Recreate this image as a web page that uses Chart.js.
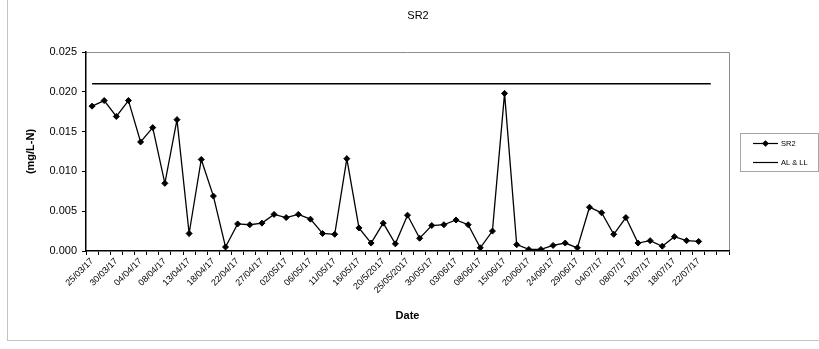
<!DOCTYPE html>
<html><head><meta charset="utf-8">
<script src="https://cdn.jsdelivr.net/npm/chart.js@4.4.0/dist/chart.umd.min.js"></script>
<style>html,body{margin:0;padding:0;background:#fff;overflow:hidden}#wrap{width:819px;height:349px;position:relative}</style>
</head><body><div id="wrap"><canvas id="c" width="819" height="349"></canvas></div>
<script>
const chartTitle = 'SR2';
const yAxisTitle = '(mg/L-N)';
const xAxisTitle = 'Date';
const seriesNames = ['SR2', 'AL & LL'];
// shown date labels (every second category)
const dateLabels = ['25/03/17','30/03/17','04/04/17','08/04/17','13/04/17','18/04/17','22/04/17','27/04/17','02/05/17','06/05/17','11/05/17','16/05/17','20/5/2017','25/05/2017','30/05/17','03/06/17','08/06/17','15/06/17','20/06/17','24/06/17','29/06/17','04/07/17','08/07/17','13/07/17','18/07/17','22/07/17'];
const categoryCount = 53;
const sr2Values = [0.0182,0.0189,0.0169,0.0189,0.0137,0.0155,0.0085,0.0165,0.0022,0.0115,0.0069,0.0005,0.0034,0.0033,0.0035,0.0046,0.0042,0.0046,0.0040,0.0022,0.0021,0.0116,0.0029,0.0010,0.0035,0.0009,0.0045,0.0016,0.0032,0.0033,0.0039,0.0033,0.0004,0.0025,0.0198,0.0008,0.0002,0.0002,0.0007,0.0010,0.0004,0.0055,0.0048,0.0021,0.0042,0.0010,0.0013,0.0006,0.0018,0.0013,0.0012];
const alLlValues = [0.021,0.021,0.021,0.021,0.021,0.021,0.021,0.021,0.021,0.021,0.021,0.021,0.021,0.021,0.021,0.021,0.021,0.021,0.021,0.021,0.021,0.021,0.021,0.021,0.021,0.021,0.021,0.021,0.021,0.021,0.021,0.021,0.021,0.021,0.021,0.021,0.021,0.021,0.021,0.021,0.021,0.021,0.021,0.021,0.021,0.021,0.021,0.021,0.021,0.021,0.021,0.021];
const yTicks = [0, 0.005, 0.010, 0.015, 0.020, 0.025];

const categories = [];
for (let i = 0; i < categoryCount; i++) {
  categories.push(i % 2 === 0 && dateLabels[i / 2] !== undefined ? dateLabels[i / 2] : '');
}

const FONT = '"Liberation Sans", Arial, Helvetica, sans-serif';

const framePlugin = {
  id: 'frame',
  beforeDraw(chart) {
    const ctx = chart.ctx;
    ctx.save();
    ctx.fillStyle = '#fff';
    ctx.fillRect(0, 0, chart.width, chart.height);
    ctx.strokeStyle = '#c4c4c4';
    ctx.lineWidth = 1;
    ctx.strokeRect(7.5, -5, 830, 345.5);
    const a = chart.chartArea;
    ctx.strokeStyle = '#8c8c8c';
    ctx.beginPath();
    ctx.moveTo(a.left, Math.round(a.top) + 0.5);
    ctx.lineTo(Math.round(a.right) + 0.5, Math.round(a.top) + 0.5);
    ctx.lineTo(Math.round(a.right) + 0.5, a.bottom);
    ctx.stroke();
    ctx.restore();
  },
  afterDraw(chart) {
    const ctx = chart.ctx;
    ctx.save();
    ctx.fillStyle = '#000';
    ctx.font = '11px ' + FONT;
    ctx.textAlign = 'center';
    ctx.textBaseline = 'middle';
    ctx.fillText(chartTitle, 418, 16);
    // legend
    ctx.strokeStyle = '#a6a6a6';
    ctx.lineWidth = 1;
    ctx.strokeRect(740.5, 133.5, 78, 38);
    const rows = [143, 162];
    chart.data.datasets.forEach((ds, i) => {
      const y = rows[i] + 0.5;
      ctx.strokeStyle = '#000';
      ctx.lineWidth = 1.2;
      ctx.beginPath(); ctx.moveTo(753, y); ctx.lineTo(778, y); ctx.stroke();
      if (ds.pointRadius > 0) {
        ctx.fillStyle = '#000';
        Chart.helpers.drawPoint(ctx, {pointStyle: 'rectRot', radius: 2.5, borderWidth: 1}, 765.5, y);
      }
      ctx.fillStyle = '#000';
      ctx.font = '7.5px ' + FONT;
      ctx.textAlign = 'left';
      ctx.fillText(ds.label, 781, y);
    });
    ctx.restore();
  }
};

new Chart(document.getElementById('c'), {
  type: 'line',
  data: {
    labels: categories,
    datasets: [
      {label: seriesNames[0], data: sr2Values, borderColor: '#000', backgroundColor: '#000', borderWidth: 1.3,
       pointStyle: 'rectRot', pointRadius: 3, pointBorderWidth: 1, pointBackgroundColor: '#000', pointBorderColor: '#000', tension: 0, fill: false},
      {label: seriesNames[1], data: alLlValues, borderColor: '#000', backgroundColor: '#000', borderWidth: 1.5,
       pointRadius: 0, tension: 0, fill: false}
    ]
  },
  options: {
    responsive: false,
    animation: false,
    devicePixelRatio: 1,
    layout: {padding: {top: 52, right: 90, bottom: 0, left: 0}},
    plugins: {legend: {display: false}, title: {display: false}, tooltip: {enabled: false}},
    scales: {
      x: {
        type: 'category',
        offset: true,
        grid: {offset: true, drawOnChartArea: false, drawTicks: true, tickLength: 4, color: '#000', lineWidth: 1},
        border: {display: true, color: '#000', width: 1.5},
        ticks: {autoSkip: false, maxRotation: 45, minRotation: 45, color: '#000', padding: 1, font: {size: 9, family: FONT}},
        title: {display: true, text: xAxisTitle, color: '#000', font: {size: 11, weight: 'bold', family: FONT}, padding: {top: 4, bottom: 26}},
        afterFit(s) { s.height = 98; }
      },
      y: {
        min: 0, max: 0.025,
        afterBuildTicks(s) { s.ticks = yTicks.map(v => ({value: v})); },
        grid: {drawOnChartArea: false, drawTicks: true, tickLength: 4, color: '#000', lineWidth: 1},
        border: {display: true, color: '#000', width: 1.5},
        ticks: {color: '#000', padding: 5, font: {size: 11, family: FONT}, callback: v => Number(v).toFixed(3)},
        title: {display: true, text: yAxisTitle, color: '#000', font: {size: 11, weight: 'bold', family: FONT}, padding: {top: 24, bottom: 0}},
        afterFit(s) { s.width = 86; }
      }
    }
  },
  plugins: [framePlugin]
});
</script>
</body></html>
